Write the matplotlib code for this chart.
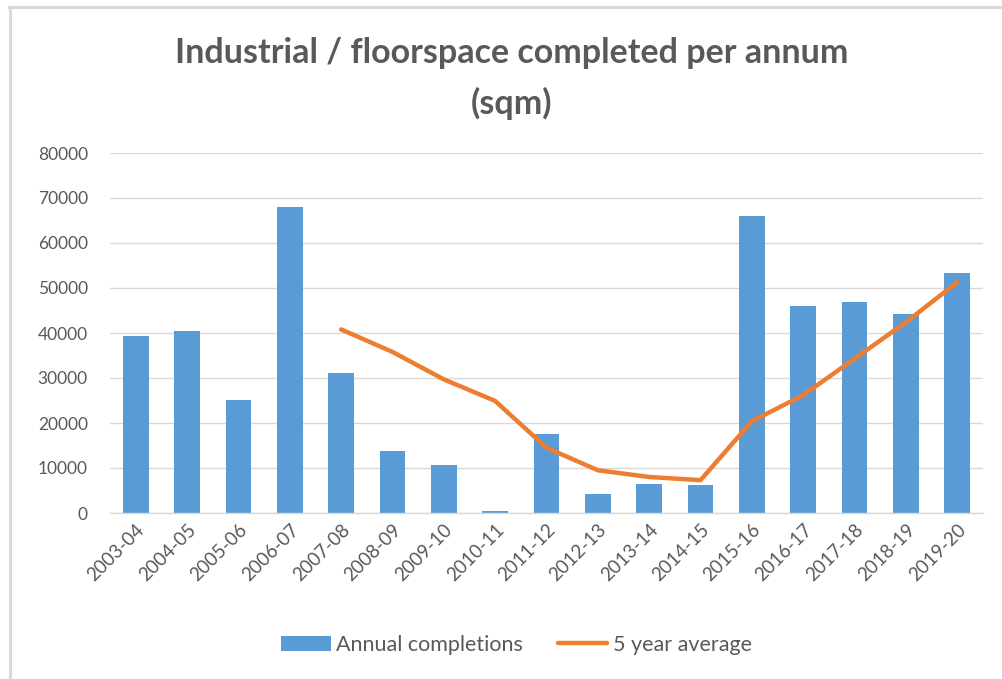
import matplotlib
matplotlib.use("Agg")
import matplotlib.pyplot as plt
from matplotlib.lines import Line2D
from matplotlib.transforms import ScaledTranslation
import numpy as np

categories = ["2003-04", "2004-05", "2005-06", "2006-07", "2007-08", "2008-09",
              "2009-10", "2010-11", "2011-12", "2012-13", "2013-14", "2014-15",
              "2015-16", "2016-17", "2017-18", "2018-19", "2019-20"]
annual = [39300, 40400, 25200, 67900, 31100, 13700, 10600, 400, 17600,
          4300, 6500, 6300, 66100, 45900, 46800, 44200, 53300]
avg5 = [None, None, None, None, 40800, 35800, 29700, 24900, 14500,
        9500, 8000, 7300, 20400, 26200, 34300, 42400, 51300]
yticks = [0, 10000, 20000, 30000, 40000, 50000, 60000, 70000, 80000]

BLUE = "#5B9BD5"
ORANGE = "#ED7D31"
TXT = "#595959"
GRID = "#D9D9D9"
FONT = "Lato"

W, H = 1003, 679
fig = plt.figure(figsize=(W / 100, H / 100), dpi=100)
fig.patch.set_facecolor("white")

# outer frame (top and left edges visible)
fig.add_artist(Line2D([9 / W, 1.0], [1 - 7 / H, 1 - 7 / H], color=GRID, lw=2.2,
                      transform=fig.transFigure))
fig.add_artist(Line2D([10 / W, 10 / W], [1 - 7 / H, 0], color=GRID, lw=2.2,
                      transform=fig.transFigure))

ax = fig.add_axes([110 / W, 1 - 513 / H, (983 - 110) / W, (513 - 153) / H])
x = np.arange(len(categories))
ax.bar(x, annual, width=0.5, color=BLUE, label="Annual completions", zorder=2)
xs = [i for i, v in enumerate(avg5) if v is not None]
ys = [v for v in avg5 if v is not None]
ax.plot(xs, ys, color=ORANGE, lw=3.2, solid_capstyle="round",
        solid_joinstyle="round", label="5 year average", zorder=3)

ax.set_xlim(-0.5, len(categories) - 0.5)
ax.set_ylim(0, 80000)
ax.set_yticks(yticks)
ax.set_yticklabels([str(v) for v in yticks], fontsize=12.5, color=TXT, family=FONT)
ax.set_xticks(x)
ax.set_xticklabels(categories, rotation=45, ha="right", rotation_mode="anchor",
                   fontsize=13.5, color=TXT, family=FONT)
shift = ScaledTranslation(7 / 100, 0, fig.dpi_scale_trans)
for lbl in ax.get_xticklabels():
    lbl.set_transform(lbl.get_transform() + shift)
ax.tick_params(axis="both", length=0)
ax.tick_params(axis="y", pad=16)
ax.tick_params(axis="x", pad=6)
ax.grid(axis="y", color=GRID, lw=1, zorder=0)
ax.set_axisbelow(True)
for s in ["top", "right", "left"]:
    ax.spines[s].set_visible(False)
ax.spines["bottom"].set_color(GRID)
ax.spines["bottom"].set_linewidth(1)

fig.text(0.51, 1 - 53 / H, "Industrial / floorspace completed per annum",
         ha="center", va="center", fontsize=24.5, fontweight="bold", color=TXT,
         family=FONT)
fig.text(0.51, 1 - 103 / H, "(sqm)", ha="center", va="center", fontsize=24.5,
         fontweight="bold", color=TXT, family=FONT)

h, l = ax.get_legend_handles_labels()
leg = fig.legend(h[::-1], l[::-1], loc="center", bbox_to_anchor=(0.515, 1 - 645 / H),
                 ncol=2, frameon=False, handlelength=2.3, handleheight=0.7,
                 columnspacing=1.6, handletextpad=0.25,
                 prop={"family": FONT, "size": 15.5})
for t in leg.get_texts():
    t.set_color(TXT)

fig.savefig("out.png", dpi=100, facecolor="white")
